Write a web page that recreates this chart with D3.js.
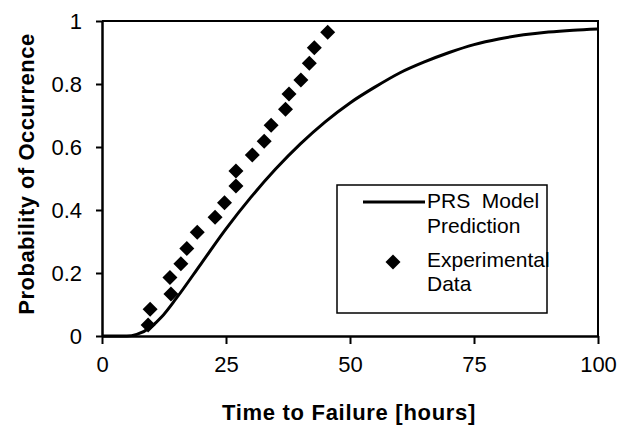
<!DOCTYPE html>
<html>
<head>
<meta charset="utf-8">
<script src="https://cdn.jsdelivr.net/npm/d3@7"></script>
<style>
  body { margin: 0; background: #fff; }
  svg { display: block; }
  text { font-family: "Liberation Sans", Arial, sans-serif; fill: #000; }
</style>
</head>
<body>
<svg id="chart" width="623" height="431"></svg>
<script>
// model curve (PRS model prediction)
var modelTime = [0, 5, 7, 10, 12, 15, 20, 25, 30, 35, 40, 45, 50, 55, 60, 65, 70, 75, 80, 85, 90, 95, 100];
var modelProb = [0, 0, 0.005, 0.03, 0.06, 0.12, 0.23, 0.34, 0.44, 0.53, 0.61, 0.68, 0.74, 0.79, 0.835, 0.87, 0.9, 0.925, 0.943, 0.956, 0.965, 0.971, 0.975];

// experimental data points
var expTime = [9.3, 9.7, 13.9, 13.7, 15.9, 17.1, 19.2, 22.8, 24.7, 27, 27, 30.3, 32.7, 34.1, 37, 37.7, 40.1, 41.8, 42.8, 45.5];
var expProb = [0.035, 0.085, 0.133, 0.186, 0.229, 0.278, 0.329, 0.377, 0.423, 0.476, 0.524, 0.575, 0.618, 0.669, 0.72, 0.768, 0.813, 0.866, 0.915, 0.964];

var xTicks = [0, 25, 50, 75, 100];
var yTicks = [0, 0.2, 0.4, 0.6, 0.8, 1];

var legendLabels = [["PRS  Model", "Prediction"], ["Experimental", "Data"]];

var margin = {left: 102, top: 21, right: 25, bottom: 95};
var W = 623, H = 431;
var svg = d3.select("#chart");

var x = d3.scaleLinear().domain([0, 100]).range([margin.left, W - margin.right]);
var y = d3.scaleLinear().domain([0, 1]).range([H - margin.bottom, margin.top]);

// frame (top and right edges)
svg.append("path")
    .attr("d", "M" + x(0) + "," + y(1) + "H" + x(100) + "V" + y(0))
    .attr("fill", "none")
    .attr("stroke", "#000")
    .attr("stroke-width", 2);

// x axis
var xAxis = svg.append("g")
    .attr("transform", "translate(0," + y(0) + ")")
    .call(d3.axisBottom(x).tickValues(xTicks).tickFormat(d3.format("d"))
        .tickSize(8).tickSizeOuter(0).tickPadding(12));

// y axis
var yAxis = svg.append("g")
    .attr("transform", "translate(" + x(0) + ",0)")
    .call(d3.axisLeft(y).tickValues(yTicks).tickFormat(function(d){ return d === 0 || d === 1 ? d : d.toFixed(1); })
        .tickSize(6).tickSizeOuter(0).tickPadding(14));

[xAxis, yAxis].forEach(function(a){
    a.select(".domain").attr("stroke-width", 2.5);
    a.selectAll(".tick line").attr("stroke-width", 2);
    a.selectAll(".tick text")
        .style("font-size", "22px")
        .style("font-family", "'Liberation Sans', Arial, sans-serif")
        .attr("fill", "#000");
});

// model curve
var line = d3.line()
    .x(function(d, i){ return x(modelTime[i]); })
    .y(function(d){ return y(d); })
    .curve(d3.curveMonotoneX);

svg.append("path")
    .datum(modelProb)
    .attr("d", line)
    .attr("fill", "none")
    .attr("stroke", "#000")
    .attr("stroke-width", 3);

// diamonds
function diamond(r){
    return "M0," + (-r) + "L" + r + ",0L0," + r + "L" + (-r) + ",0Z";
}

svg.append("g").selectAll("path")
    .data(expProb)
    .enter().append("path")
    .attr("d", diamond(7.5))
    .attr("transform", function(d, i){ return "translate(" + x(expTime[i]) + "," + y(d) + ")"; })
    .attr("fill", "#000");

// axis titles
svg.append("text")
    .attr("x", 349)
    .attr("y", 420)
    .attr("text-anchor", "middle")
    .style("font-size", "22px")
    .style("font-weight", "bold")
    .style("letter-spacing", "0.7px")
    .text("Time to Failure [hours]");

svg.append("text")
    .attr("transform", "translate(34,174) rotate(-90)")
    .attr("text-anchor", "middle")
    .style("font-size", "22px")
    .style("font-weight", "bold")
    .style("letter-spacing", "0.5px")
    .text("Probability of Occurrence");

// legend
var legend = svg.append("g");
legend.append("rect")
    .attr("x", 337).attr("y", 185)
    .attr("width", 210).attr("height", 128)
    .attr("fill", "#fff")
    .attr("stroke", "#000")
    .attr("stroke-width", 1.5);

legend.append("line")
    .attr("x1", 363).attr("x2", 425)
    .attr("y1", 202).attr("y2", 202)
    .attr("stroke", "#000")
    .attr("stroke-width", 3);

legend.append("path")
    .attr("d", diamond(7.5))
    .attr("transform", "translate(393,262)")
    .attr("fill", "#000");

var legendY = [[208, 233], [267, 291]];
legendLabels.forEach(function(lines, k){
    lines.forEach(function(t, j){
        legend.append("text")
            .attr("x", 427)
            .attr("y", legendY[k][j])
            .style("font-size", "21px")
            .style("white-space", "pre")
            .text(t);
    });
});
</script>
</body>
</html>
